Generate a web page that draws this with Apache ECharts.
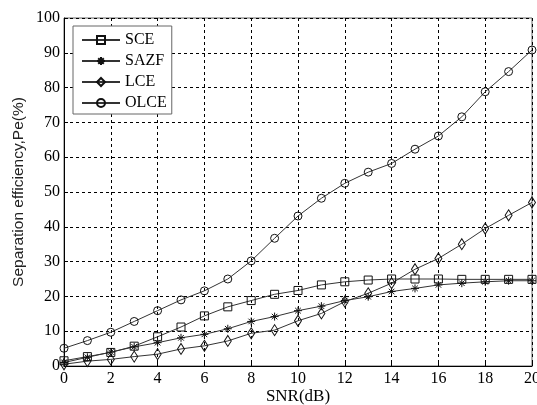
<!DOCTYPE html>
<html><head><meta charset="utf-8">
<script src="https://cdn.jsdelivr.net/npm/echarts@6/dist/echarts.min.js"></script>
<style>html,body{margin:0;padding:0;background:#fff}#c{width:537px;height:405px}</style>
</head><body><div id="c"></div>
<script>
const snr = [0,1,2,3,4,5,6,7,8,9,10,11,12,13,14,15,16,17,18,19,20];
const sce  = [1.5,2.7,3.9,5.7,8.4,11.2,14.4,17.0,18.8,20.6,21.7,23.3,24.2,24.7,25.0,25.0,25.0,24.9,24.9,24.9,24.9];
const sazf = [1.0,2.5,4.0,5.5,6.7,8.1,9.1,10.7,12.8,14.2,15.9,17.2,18.8,19.9,21.4,22.3,23.3,23.8,24.2,24.5,24.5];
const lce  = [0.5,1.4,1.9,2.7,3.4,4.9,5.8,7.2,9.4,10.3,13.0,15.1,18.5,20.9,23.8,27.8,30.9,35.0,39.5,43.3,47.0];
const olce = [5.1,7.3,9.7,12.8,15.9,19.0,21.6,25.0,30.2,36.7,43.1,48.2,52.5,55.7,58.2,62.3,66.1,71.6,78.8,84.6,90.8];
const xTicks = [0,2,4,6,8,10,12,14,16,18,20];
const yTicks = [0,10,20,30,40,50,60,70,80,90,100];

const star = 'path://M0,-5L0,5M-5,0L5,0M-3.5,-3.5L3.5,3.5M-3.5,3.5L3.5,-3.5';
const serif = 'Liberation Serif';
const sans = 'Liberation Sans';
function mk(name, data, symbol, size) {
  return {
    name, type: 'line', data: snr.map((x,i)=>[x,data[i]]),
    symbol, symbolSize: size, showAllSymbol: true,
    lineStyle: {color: '#333', width: 1},
    itemStyle: {color: 'rgba(255,255,255,0)', borderColor: '#111', borderWidth: 1},
    emphasis: {disabled: true}, animation: false
  };
}
const chart = echarts.init(document.getElementById('c'));
chart.setOption({
  animation: false,
  grid: {left: 64, right: 5, top: 18, bottom: 39, show: true, borderColor: '#666', borderWidth: 1,
         containLabel: false, outerBoundsMode: 'none'},
  legend: {
    orient: 'vertical', left: 73, top: 26, padding: [6, 5, 3, 8],
    itemWidth: 38, itemHeight: 10, itemGap: 5,
    backgroundColor: '#fff', borderColor: '#666', borderWidth: 1,
    textStyle: {fontFamily: serif, fontSize: 16, color: '#000', lineHeight: 16},
    data: ['SCE','SAZF','LCE','OLCE']
  },
  xAxis: {
    type: 'value', min: 0, max: 20, interval: 2,
    name: 'SNR(dB)', nameLocation: 'middle', nameGap: 22, nameMoveOverlap: false,
    nameTextStyle: {fontFamily: serif, fontSize: 17, color: '#000', lineHeight: 18},
    axisLine: {lineStyle: {color: '#000'}},
    axisTick: {inside: true, length: 4, lineStyle: {color: '#000'}},
    axisLabel: {fontFamily: serif, fontSize: 16, color: '#000', margin: 5},
    splitLine: {show: true, lineStyle: {color: '#000', type: [3, 3], width: 1}}
  },
  yAxis: {
    type: 'value', min: 0, max: 100, interval: 10,
    name: 'Separation efficiency,Pe(%)', nameLocation: 'middle', nameGap: 37, nameMoveOverlap: false,
    nameTextStyle: {fontFamily: sans, fontSize: 15.5, color: '#222'},
    axisLine: {show: true, lineStyle: {color: '#000'}},
    axisTick: {show: true, inside: true, length: 4, lineStyle: {color: '#000'}},
    axisLabel: {fontFamily: serif, fontSize: 16, color: '#000', margin: 4},
    splitLine: {show: true, lineStyle: {color: '#000', type: [3, 3], width: 1}}
  },
  series: [
    mk('SCE', sce, 'rect', 8),
    mk('SAZF', sazf, star, 8),
    mk('LCE', lce, 'diamond', [7, 11]),
    mk('OLCE', olce, 'circle', 8)
  ]
});
</script></body></html>
